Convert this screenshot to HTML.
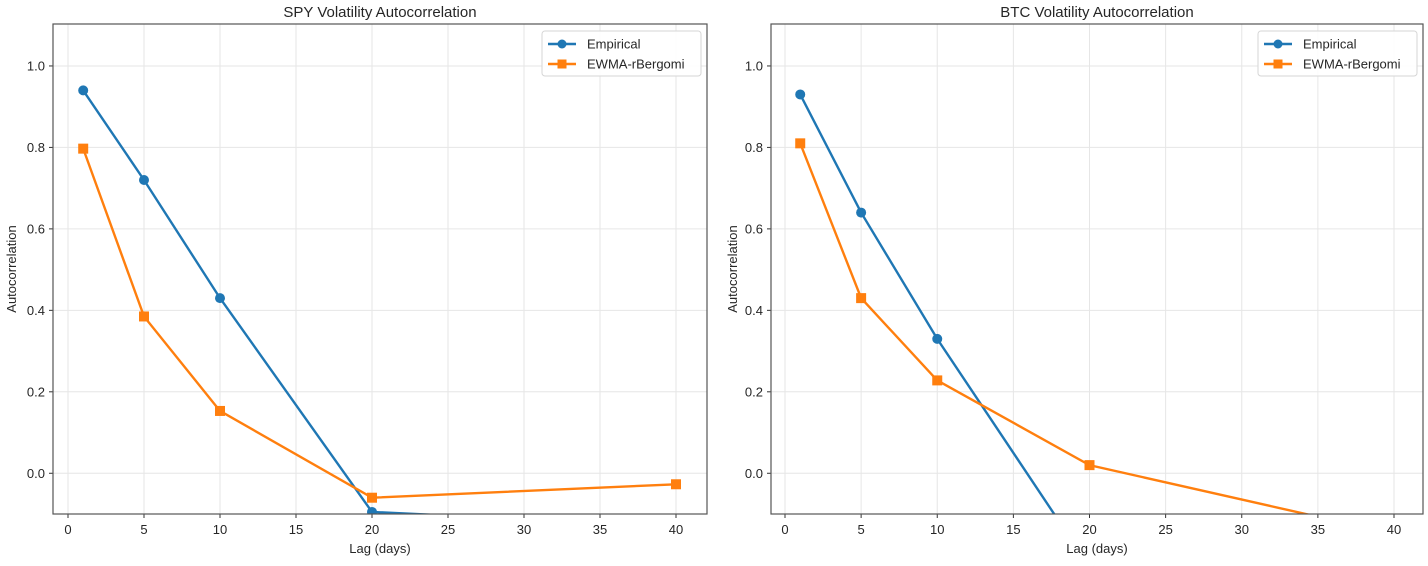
<!DOCTYPE html>
<html><head><meta charset="utf-8"><style>
body{margin:0;background:#fff;}
svg text{font-family:"Liberation Sans","DejaVu Sans",sans-serif;fill:#262626;}
</style></head><body>
<svg id="c" width="1428" height="561" xmlns="http://www.w3.org/2000/svg"></svg>
<script>
const lags = [1, 5, 10, 20, 40];
const spyEmpirical = [0.94, 0.72, 0.43, -0.095, -0.13];
const spyEwma = [0.797, 0.385, 0.153, -0.06, -0.027];
const btcEmpirical = [0.93, 0.64, 0.33, -0.23, -0.2];
const btcEwma = [0.81, 0.43, 0.228, 0.02, -0.149];
const xTicks = [0, 5, 10, 15, 20, 25, 30, 35, 40];
const yTicks = [0.0, 0.2, 0.4, 0.6, 0.8, 1.0];
const titles = ["SPY Volatility Autocorrelation", "BTC Volatility Autocorrelation"];

const NS = "http://www.w3.org/2000/svg";
const svg = document.getElementById('c');
function mk(tag, attrs, parent) {
  const e = document.createElementNS(NS, tag);
  for (const k in attrs) e.setAttribute(k, attrs[k]);
  (parent || svg).appendChild(e);
  return e;
}
const panels = [
  {left: 53, right: 707, x0: 68, x40: 676, emp: spyEmpirical, ewma: spyEwma, name: 'spy', title: titles[0], ylab: 10},
  {left: 771, right: 1423, x0: 785, x40: 1394, emp: btcEmpirical, ewma: btcEwma, name: 'btc', title: titles[1], ylab: 731}
];
const plotTop = 24, plotBottom = 514, yMin = -0.1, yMax = 1.103;
panels.forEach((p, i) => {
  const g = mk('g', {});
  
  
  const X = v => p.x0 + (v / 40) * (p.x40 - p.x0);
  const Y = v => plotBottom - (v - yMin) / (yMax - yMin) * (plotBottom - plotTop);
  const cp = mk('clipPath', {id: 'clip' + i}, g);
  mk('rect', {x: p.left, y: plotTop, width: p.right - p.left, height: plotBottom - plotTop}, cp);
  xTicks.forEach(t => {
    const l = mk('line', {x1: X(t), x2: X(t), y1: plotTop, y2: plotBottom, stroke: '#e6e6e6', 'stroke-width': 1}, g);
    
    
    mk('line', {x1: X(t), x2: X(t), y1: plotBottom, y2: plotBottom + 4, stroke: '#333', 'stroke-width': 1}, g);
    const tx = mk('text', {x: X(t), y: plotBottom + 20, 'text-anchor': 'middle', 'font-size': 13}, g);
    tx.textContent = t;
    
    
  });
  yTicks.forEach(t => {
    const l = mk('line', {x1: p.left, x2: p.right, y1: Y(t), y2: Y(t), stroke: '#e6e6e6', 'stroke-width': 1}, g);
    
    
    mk('line', {x1: p.left - 4, x2: p.left, y1: Y(t), y2: Y(t), stroke: '#333', 'stroke-width': 1}, g);
    const tx = mk('text', {x: p.left - 8, y: Y(t) + 4.5, 'text-anchor': 'end', 'font-size': 13}, g);
    tx.textContent = t.toFixed(1);
    
    
  });
  const series = [[p.emp, '#1f77b4', 'circle', 'empirical'], [p.ewma, '#ff7f0e', 'square', 'ewma']];
  const cg = mk('g', {'clip-path': 'url(#clip' + i + ')'}, g);
  series.forEach(([vals, col, mark, nm]) => {
    const pts = vals.map((v, k) => X(lags[k]) + ',' + Y(v)).join(' ');
    const pl = mk('polyline', {points: pts, fill: 'none', stroke: col, 'stroke-width': 2.4}, cg);
    
    
    vals.forEach((v, k) => {
      let m;
      if (mark === 'circle') m = mk('circle', {cx: X(lags[k]), cy: Y(v), r: 5, fill: col}, cg);
      else m = mk('rect', {x: X(lags[k]) - 5, y: Y(v) - 5, width: 10, height: 10, fill: col}, cg);
      
      
    });
  });
  const fr = mk('rect', {x: p.left, y: plotTop, width: p.right - p.left, height: plotBottom - plotTop, fill: 'none', stroke: '#555', 'stroke-width': 1.2}, g);
  
  
  const tt = mk('text', {x: (p.left + p.right) / 2, y: 17, 'text-anchor': 'middle', 'font-size': 15}, g);
  tt.textContent = p.title;
  
  
  const xl = mk('text', {x: (p.left + p.right) / 2, y: 553, 'text-anchor': 'middle', 'font-size': 13}, g);
  xl.textContent = 'Lag (days)';
  
  
  const cy = (plotTop + plotBottom) / 2;
  const yl = mk('text', {x: p.ylab + 6, y: cy, 'text-anchor': 'middle', 'font-size': 13, transform: 'rotate(-90 ' + (p.ylab + 6) + ' ' + cy + ')'}, g);
  yl.textContent = 'Autocorrelation';
  
  
  const lx = p.right - 165;
  const lg = mk('g', {}, g);
  
  
  mk('rect', {x: lx, y: 31, width: 159, height: 45, rx: 3, fill: '#fff', 'fill-opacity': 0.85, stroke: '#d6d6d6'}, lg);
  [['Empirical', '#1f77b4', 'circle'], ['EWMA-rBergomi', '#ff7f0e', 'square']].forEach(([lab, col, mark], k) => {
    const yy = 44 + k * 20;
    const e = mk('g', {}, lg);
    
    
    mk('line', {x1: lx + 6, x2: lx + 34, y1: yy, y2: yy, stroke: col, 'stroke-width': 2.4}, e);
    if (mark === 'circle') mk('circle', {cx: lx + 20, cy: yy, r: 4.5, fill: col}, e);
    else mk('rect', {x: lx + 15.5, y: yy - 4.5, width: 9, height: 9, fill: col}, e);
    const t = mk('text', {x: lx + 45, y: yy + 4.5, 'font-size': 13}, e);
    t.textContent = lab;
  });
});
</script>
</body></html>
